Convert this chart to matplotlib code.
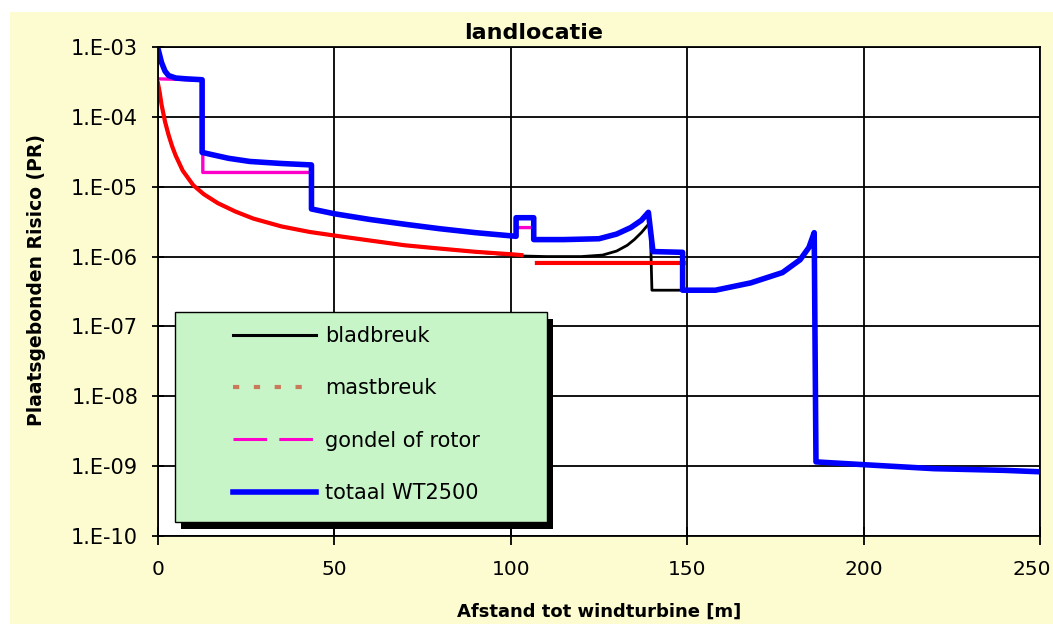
import matplotlib
matplotlib.use("Agg")
import matplotlib.pyplot as plt
import matplotlib.transforms as mtransforms
import numpy as np
from matplotlib.lines import Line2D
from matplotlib.patches import Rectangle
from matplotlib.ticker import NullLocator

# distance [m] and risk values
blad_x = [0, 0.5, 1, 2, 3, 4, 5, 7, 10, 13, 17, 22, 27, 35, 43, 50, 60, 70, 80, 90, 100,
          103, 110, 120, 126, 130, 133, 135, 137, 138.5, 139.5, 140, 149, 158, 168, 177,
          182, 184.5, 186, 186.5, 200, 220, 240, 250]
blad_y = [3.0e-4, 2.2e-4, 1.5e-4, 8.5e-5, 5.5e-5, 3.8e-5, 2.8e-5, 1.7e-5, 1.05e-5, 7.8e-6,
          5.8e-6, 4.4e-6, 3.5e-6, 2.7e-6, 2.25e-6, 2.0e-6, 1.7e-6, 1.45e-6, 1.3e-6, 1.17e-6,
          1.05e-6, 1.02e-6, 1.0e-6, 1.0e-6, 1.05e-6, 1.2e-6, 1.45e-6, 1.75e-6, 2.2e-6, 2.7e-6,
          3.1e-6, 3.3e-7, 3.3e-7, 3.3e-7, 4.2e-7, 5.9e-7, 9.0e-7, 1.35e-6, 2.2e-6, 1.15e-9,
          1.05e-9, 9.2e-10, 8.7e-10, 8.3e-10]

mast_x = [0, 0.5, 1, 2, 3, 4, 5, 7, 10, 13, 17, 22, 27, 35, 43, 50, 60, 70, 80, 90, 100,
          103, 105, 107.4, 120, 135, 149]
mast_y = [3.0e-4, 2.2e-4, 1.5e-4, 8.5e-5, 5.5e-5, 3.8e-5, 2.8e-5, 1.7e-5, 1.05e-5, 7.8e-6,
          5.8e-6, 4.4e-6, 3.5e-6, 2.7e-6, 2.25e-6, 2.0e-6, 1.7e-6, 1.45e-6, 1.3e-6, 1.17e-6,
          1.08e-6, 1.05e-6, np.nan, 8.1e-7, 8.1e-7, 8.1e-7, 8.1e-7]

gondel_x = [0, 5, 12.7, 12.7, 43, 70, 101.5, 101.5, 106.5, 106.5]
gondel_y = [3.5e-4, 3.45e-4, 3.35e-4, 1.6e-5, 1.6e-5, np.nan, np.nan, 2.6e-6, 2.6e-6, np.nan]

totaal_x = [0, 1, 2, 3, 5, 8, 12.5, 12.5, 15, 20, 26, 35, 43.5, 43.5, 50, 60, 70, 80, 90,
            101.5, 101.5, 106.5, 106.5, 115, 125, 130, 134, 137, 139, 140.3, 148.7, 148.7,
            158, 168, 177, 182, 184.5, 186, 186.5, 200, 220, 240, 250]
totaal_y = [9.5e-4, 6.0e-4, 4.5e-4, 3.9e-4, 3.6e-4, 3.5e-4, 3.4e-4, 3.1e-5, 2.9e-5, 2.55e-5,
            2.3e-5, 2.15e-5, 2.05e-5, 4.8e-6, 4.1e-6, 3.4e-6, 2.9e-6, 2.5e-6, 2.2e-6, 1.95e-6,
            3.6e-6, 3.6e-6, 1.75e-6, 1.75e-6, 1.8e-6, 2.1e-6, 2.6e-6, 3.3e-6, 4.3e-6, 1.18e-6,
            1.15e-6, 3.3e-7, 3.3e-7, 4.2e-7, 5.9e-7, 9.0e-7, 1.35e-6, 2.2e-6, 1.15e-9, 1.05e-9,
            9.2e-10, 8.7e-10, 8.3e-10]

series_labels = ["bladbreuk", "mastbreuk", "gondel of rotor", "totaal WT2500"]
x_ticks = [0, 50, 100, 150, 200, 250]
y_ticks = [1e-3, 1e-4, 1e-5, 1e-6, 1e-7, 1e-8, 1e-9, 1e-10]
y_tick_labels = ["1.E-03", "1.E-04", "1.E-05", "1.E-06", "1.E-07", "1.E-08", "1.E-09", "1.E-10"]

W, H = 1053, 624
cream = "#fdfbd0"

fig = plt.figure(figsize=(W / 100, H / 100), dpi=100, facecolor="white")
# cream chart area, white strip at top and left like the screenshot
fig.patches.append(Rectangle((10 / W, 0), 1, 1 - 12 / H, transform=fig.transFigure,
                             facecolor=cream, edgecolor="none", zorder=-10))

ax = fig.add_axes([158 / W, 88 / H, 882 / W, 489 / H])
ax.set_facecolor("white")

ax.plot(blad_x, blad_y, color="black", lw=2.0, zorder=2)
ax.plot(mast_x, mast_y, color="#ff0000", lw=3.0, zorder=2.1)
ax.plot(gondel_x, gondel_y, color="#ff00cc", lw=2.4, zorder=2.2)
ax.plot(totaal_x, totaal_y, color="#0000ff", lw=4.0, zorder=2.3)

ax.set_yscale("log")
ax.set_ylim(1e-10, 1e-3)
ax.set_xlim(0, 250)
ax.set_yticks(y_ticks)
ax.set_yticklabels(y_tick_labels)
ax.yaxis.set_minor_locator(NullLocator())
ax.set_xticks(x_ticks)
ax.set_xticklabels([str(v) for v in x_ticks])

ax.set_axisbelow(True)
ax.grid(True, color="black", lw=1.3)
for s in ax.spines.values():
    s.set_color("black")
    s.set_linewidth(1.3)

ax.tick_params(axis="y", direction="inout", length=8.6, width=1.3, pad=10, labelsize=15)
ax.tick_params(axis="x", direction="inout", length=13, width=1.3, pad=11, labelsize=14.5)

# last x label sits at the right edge; nudge it so it stays inside the image
last = ax.get_xticklabels()[-1]
last.set_transform(last.get_transform() + mtransforms.ScaledTranslation(-8 / 100, 0, fig.dpi_scale_trans))

fig.text(534 / W, 1 - 33 / H, "landlocatie", ha="center", va="center",
         fontsize=16, fontweight="bold")
fig.text(37 / W, 1 - 280 / H, "Plaatsgebonden Risico (PR)", ha="center", va="center",
         rotation=90, fontsize=13.5, fontweight="bold")
fig.text(599 / W, 1 - 612 / H, "Afstand tot windturbine [m]", ha="center", va="center",
         fontsize=13, fontweight="bold")

# legend box with shadow
bx, by = 17 / 882, 14 / 489
bw, bh = 372 / 882, 210 / 489
ax.add_patch(Rectangle((bx + 6 / 882, by - 7 / 489), bw, bh, transform=ax.transAxes,
                       facecolor="black", edgecolor="none", zorder=3.9, clip_on=False))
ax.add_patch(Rectangle((bx, by), bw, bh, transform=ax.transAxes,
                       facecolor="#c8f5c8", edgecolor="black", lw=1.0, zorder=4, clip_on=False))

handles = [
    Line2D([], [], color="black", lw=2.2),
    Line2D([], [], color="#c87a5a", lw=3, linestyle=(0, (1.5, 3.5))),
    Line2D([], [], color="#ff00cc", lw=2.2, linestyle=(0, (11, 4))),
    Line2D([], [], color="#0000ff", lw=4),
]
leg = ax.legend(handles, series_labels, loc="upper left", bbox_to_anchor=(75 / 882, 210 / 489),
                frameon=False, borderpad=0, borderaxespad=0, fontsize=15,
                handlelength=4.0, handletextpad=0.4, labelspacing=1.55)
leg.set_zorder(5)

fig.savefig("out.png", dpi=100, facecolor=fig.get_facecolor())
